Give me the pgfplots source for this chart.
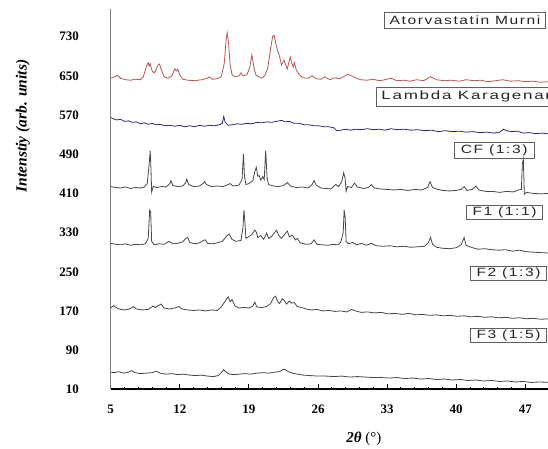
\documentclass[border=0pt]{standalone}
\usepackage{fontspec}
\setmainfont{Liberation Serif}
\newfontfamily\boxfont[LetterSpace=10]{Liberation Sans}
\usepackage{pgfplots}
\usepackage{pgfplotstable}
\pgfplotsset{compat=1.18}

\definecolor{atorred}{RGB}{185,85,85}
\definecolor{lambdablue}{RGB}{40,40,130}
\definecolor{trace}{RGB}{70,70,70}
\definecolor{boxgray}{RGB}{95,95,95}

% Atorvastatin Murni
\pgfplotstableread{
x y
5.0 645
5.4 648
5.7 651
6.0 645
6.5 642
7.0 641
7.5 643
8.0 642
8.3 648
8.6 668
8.8 677
8.9 670
9.0 675
9.2 660
9.4 656
9.6 662
9.8 672
9.95 674
10.1 664
10.4 648
10.8 645
11.2 650
11.5 664
11.65 660
11.8 663
12.0 652
12.3 643
12.8 641
13.5 640
14.2 642
14.8 645
15.0 648
15.3 643
15.8 644
16.2 648
16.5 675
16.7 725
16.8 738
16.95 715
17.1 672
17.3 652
17.6 648
18.0 650
18.2 656
18.4 650
18.8 652
19.1 668
19.3 693
19.5 668
19.7 652
20.0 648
20.3 645
20.6 650
20.9 665
21.2 705
21.4 730
21.55 733
21.7 718
21.9 702
22.1 690
22.3 672
22.55 682
22.7 674
22.9 664
23.1 682
23.2 688
23.35 675
23.5 668
23.6 677
23.8 662
24.1 652
24.5 646
25.0 645
25.4 650
25.8 644
26.3 643
26.7 648
27.2 642
27.7 646
28.2 644
28.6 648
29.0 653
29.4 650
29.8 646
30.3 642
31.0 641
31.6 643
32.2 640
32.8 642
33.4 645
34.0 640
34.7 641
35.3 639
36.0 642
36.7 640
37.4 648
38.0 642
38.8 640
39.5 641
40.3 639
41.0 642
41.8 640
42.5 641
43.2 638
44.0 640
44.7 642
45.5 639
46.3 640
47.0 638
47.8 639
48.5 637
49.5 638
}\ator

% Lambda Karagenan
\pgfplotstableread{
x y
5.0 565
5.3 562
5.6 560
6.0 561
6.4 557
6.8 558
7.2 555
7.6 556
8.0 552
8.4 554
8.8 551
9.2 553
9.6 550
10.0 551
10.5 548
11.0 549
11.5 547
12.0 549
12.5 546
13.0 548
13.5 546
14.0 549
14.5 547
15.0 549
15.5 548
16.0 550
16.3 553
16.45 567
16.6 555
16.9 549
17.3 550
17.8 552
18.3 551
18.8 553
19.3 552
19.8 555
20.3 554
20.8 556
21.3 555
21.8 557
22.3 559
22.7 556
23.1 557
23.6 553
24.1 553
24.6 550
25.1 550
25.6 548
26.1 548
26.6 546
27.1 546
27.6 544
27.9 538
28.3 539
28.8 541
29.3 539
29.8 541
30.4 540
31.0 542
31.6 540
32.2 541
32.8 539
33.4 542
34.0 540
34.7 541
35.4 539
36.1 540
36.8 538
37.5 539
38.2 536
38.9 538
39.6 536
40.3 537
41.0 535
41.7 536
42.4 534
43.1 535
43.8 533
44.4 535
44.8 541
45.1 538
45.6 536
46.2 537
46.8 533
47.4 534
48.0 532
48.7 533
49.5 531
}\lambdak

% CF (1:3)
\pgfplotstableread{
x y
5.0 424
5.5 422
6.0 421
6.5 423
7.0 420
7.5 422
8.0 421
8.4 423
8.7 430
8.9 470
9.0 497
9.08 460
9.15 412
9.3 424
9.7 422
10.2 424
10.6 423
11.0 430
11.1 436
11.3 426
11.8 424
12.3 425
12.6 432
12.7 439
12.9 428
13.4 424
14.0 425
14.4 431
14.5 434
14.7 428
15.2 424
15.8 425
16.4 424
16.9 428
17.1 430
17.4 425
18.0 427
18.3 438
18.45 490
18.55 445
18.7 428
19.0 430
19.4 436
19.6 455
19.75 463
19.9 445
20.05 446
20.2 437
20.4 444
20.55 438
20.7 497
20.85 440
21.0 428
21.5 425
22.0 424
22.5 426
22.9 432
23.2 425
23.8 422
24.4 423
25.0 421
25.4 428
25.6 436
25.8 427
26.3 421
26.8 420
27.3 419
27.8 428
28.1 424
28.4 434
28.6 452
28.75 440
28.85 414
29.0 424
29.4 422
29.7 431
30.0 423
30.6 420
31.1 422
31.4 428
31.7 421
32.3 419
33.0 418
33.7 417
34.4 418
35.1 416
35.8 418
36.5 417
37.1 422
37.35 434
37.6 422
38.0 419
38.6 416
39.3 415
40.0 416
40.5 418
40.8 424
41.1 416
41.6 418
42.0 425
42.3 417
43.0 414
43.7 414
44.4 412
45.1 414
45.8 413
46.3 417
46.6 418
46.7 470
46.8 480
46.9 408
47.1 412
47.8 410
48.5 409
49.5 410
}\cf

% F1 (1:1)
\pgfplotstableread{
x y
5.0 308
5.5 306
6.0 305
6.5 307
7.0 304
7.5 306
8.0 305
8.5 307
8.8 318
8.95 376
9.05 372
9.15 312
9.4 305
9.9 307
10.4 306
10.9 312
11.3 307
11.8 308
12.3 311
12.6 318
12.8 320
13.0 310
13.5 307
14.0 309
14.4 314
14.6 315
14.8 308
15.3 307
15.8 309
16.3 312
16.8 324
17.0 327
17.3 316
17.7 312
18.2 314
18.4 340
18.5 376
18.6 350
18.7 318
19.0 322
19.3 326
19.6 335
19.75 331
19.9 320
20.2 324
20.5 316
20.8 329
21.0 318
21.3 322
21.6 330
21.8 335
22.0 325
22.3 318
22.6 326
22.9 333
23.1 321
23.4 325
23.7 315
23.9 318
24.2 309
24.8 306
25.3 307
25.6 315
25.9 306
26.4 305
27.0 304
27.5 306
28.0 305
28.3 310
28.55 330
28.65 376
28.75 360
28.85 312
29.1 307
29.5 310
29.9 305
30.4 308
30.9 304
31.4 308
31.9 303
32.6 302
33.3 303
34.0 301
34.7 302
35.4 300
36.1 301
36.8 302
37.2 310
37.4 320
37.6 306
38.0 300
38.6 298
39.3 297
40.0 299
40.5 305
40.8 320
41.0 304
41.5 300
42.2 296
42.9 297
43.6 295
44.3 294
45.0 295
45.7 292
46.4 294
47.1 291
47.8 290
48.6 289
49.5 288
}\fone

% F2 (1:3)
\pgfplotstableread{
x y
5.0 176
5.3 181
5.6 176
6.0 173
6.5 172
7.0 175
7.3 179
7.6 174
8.2 172
8.8 173
9.3 180
9.5 177
9.7 179
10.1 184
10.4 176
10.9 174
11.5 176
11.9 179
12.2 174
12.8 172
13.4 171
14.0 172
14.6 170
15.2 172
15.8 171
16.2 178
16.6 190
16.9 199
17.1 189
17.3 193
17.6 180
18.0 176
18.5 177
19.0 176
19.4 180
19.6 188
19.8 178
20.3 177
20.8 179
21.2 185
21.5 197
21.7 200
21.9 190
22.1 185
22.4 195
22.6 191
22.8 184
23.1 190
23.3 186
23.6 187
23.9 179
24.3 177
24.8 174
25.3 172
25.9 173
26.5 170
27.1 171
27.7 169
28.3 170
28.9 168
29.4 173
29.8 170
30.4 167
31.0 168
31.7 166
32.4 167
33.1 164
33.8 165
34.5 163
35.2 165
35.9 162
36.6 163
37.3 161
38.0 162
38.7 160
39.4 161
40.1 159
40.8 160
41.5 158
42.2 159
42.9 157
43.6 158
44.3 156
45.0 157
45.7 155
46.4 156
47.1 154
47.8 155
48.6 153
49.5 154
}\ftwo

% F3 (1:5)
\pgfplotstableread{
x y
5.0 45
5.4 44
5.8 46
6.3 43
6.8 45
7.1 48
7.5 44
8.0 42
8.6 43
9.2 44
9.6 47
10.0 43
10.6 41
11.2 42
11.8 40
12.4 41
13.0 39
13.6 38
14.2 39
14.8 37
15.4 36
15.9 38
16.2 44
16.45 50
16.7 45
17.0 41
17.5 40
18.0 41
18.6 42
19.2 41
19.8 43
20.4 44
21.0 43
21.6 45
22.1 46
22.5 51
22.7 50
23.0 46
23.4 43
23.9 41
24.5 39
25.2 38
26.0 37
26.8 37
27.6 36
28.4 37
29.2 35
30.0 36
30.8 35
31.6 34
32.4 34
33.2 33
34.0 34
34.8 32
35.6 33
36.4 31
37.2 32
38.0 30
38.8 31
39.6 29
40.4 30
41.2 28
42.0 29
42.8 27
43.6 28
44.4 26
45.2 27
46.0 25
46.8 26
47.6 24
48.4 25
49.5 24
}\fthree

\begin{document}
\begin{tikzpicture}
\begin{axis}[
    scale only axis,
    width=437.3pt, height=380.6pt,
    xmin=5, xmax=49.3,
    ymin=10, ymax=787,
    axis x line*=bottom,
    axis y line*=left,
    x axis line style={black, line width=1.8pt},
    y axis line style={gray, line width=0.8pt},
    xtick={5,12,19,26,33,40,47},
    ytick={10,90,170,250,330,410,490,570,650,730},
    minor x tick num=4,
    xtick align=inside,
    xtick style={black, line width=0.9pt},
    major tick length=5pt,
    minor tick length=2.7pt,
    ytick style={draw=none},
    /pgf/number format/assume math mode=true,
    tick label style={font=\bfseries\fontsize{13}{13}\selectfont},
    yticklabel style={anchor=east, inner sep=0pt, xshift=-31.7pt},
    xticklabel style={anchor=north, inner sep=0pt, yshift=-15pt},
    xlabel={\textbf{\textit{2θ}} (°)},
    ylabel={\textbf{\textit{Intenstiy (arb. units)}}},
    xlabel style={at={(rel axis cs:0.579,-0.1306)}, anchor=center,
        font=\fontsize{15}{15}\selectfont},
    ylabel style={at={(rel axis cs:-0.2005,0.692)}, anchor=center, rotate=0,
        font=\fontsize{15.5}{15.5}\selectfont},
    every axis plot/.append style={line width=0.8pt},
]
\addplot[atorred] table {\ator};
\addplot[lambdablue] table {\lambdak};
\addplot[trace] table {\cf};
\addplot[trace] table {\fone};
\addplot[trace] table {\ftwo};
\addplot[trace] table {\fthree};

% sample labels
\draw[boxgray, line width=0.8pt] (axis cs:32.71,779) rectangle (axis cs:49.04,747.1);
\node[font=\boxfont\fontsize{12}{12}\selectfont, text=black!85, xscale=1.3]
    at (axis cs:40.9,763) {Atorvastatin Murni};
\draw[boxgray, line width=0.8pt] (axis cs:31.87,625.9) rectangle (axis cs:51,588.5);
\node[font=\boxfont\fontsize{12}{12}\selectfont, text=black!85, xscale=1.42, anchor=west, inner sep=0pt]
    at (axis cs:32.4,607) {Lambda Karagenan};
\draw[boxgray, line width=0.8pt] (axis cs:39.78,514.4) rectangle (axis cs:47.93,481.7);
\node[font=\boxfont\fontsize{12}{12}\selectfont, text=black!85, xscale=1.3]
    at (axis cs:43.85,498) {CF (1:3)};
\draw[boxgray, line width=0.8pt] (axis cs:41.02,386.3) rectangle (axis cs:48.77,357.1);
\node[font=\boxfont\fontsize{12}{12}\selectfont, text=black!85, xscale=1.3]
    at (axis cs:44.9,371.7) {F1 (1:1)};
\draw[boxgray, line width=0.8pt] (axis cs:41.39,261.8) rectangle (axis cs:49.17,231.8);
\node[font=\boxfont\fontsize{12}{12}\selectfont, text=black!85, xscale=1.3]
    at (axis cs:45.3,246.8) {F2 (1:3)};
\draw[boxgray, line width=0.8pt] (axis cs:41.39,134.6) rectangle (axis cs:49.17,105.2);
\node[font=\boxfont\fontsize{12}{12}\selectfont, text=black!85, xscale=1.3]
    at (axis cs:45.3,119.9) {F3 (1:5)};
\end{axis}
\pgfresetboundingbox
\path (-110.7pt,-58.7pt) rectangle (437.3pt,389.3pt);
\end{tikzpicture}
\end{document}
